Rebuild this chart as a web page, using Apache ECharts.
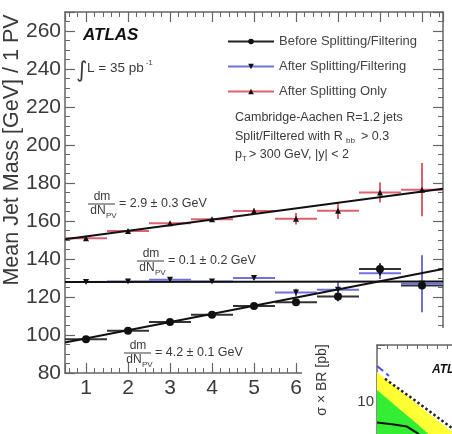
<!DOCTYPE html>
<html>
<head>
<meta charset="utf-8">
<script src="https://cdn.jsdelivr.net/npm/echarts@6/dist/echarts.min.js"></script>
<style>
html, body { margin: 0; padding: 0; background: #fff; }
#chart { width: 452px; height: 434px; }
</style>
</head>
<body>
<div id="chart"></div>
<script>
// mean jet mass per number of primary vertices
var nPV = [1, 2, 3, 4, 5, 6, 7, 8, 9];
var massBefore = [97.8, 102.2, 106.8, 110.6, 115.2, 117.3, 120.3, 134.8, 126.1];
var errBefore = [0.6, 0.6, 0.7, 0.8, 1.0, 1.5, 2.5, 3.0, 4.0];
var massFiltered = [127.9, 128.2, 129.1, 128.2, 130.0, 122.4, 123.8, 132.5, 127.0];
var errFiltered = [0.6, 0.6, 0.7, 0.8, 1.0, 2.0, 4.5, 3.0, 15.0];
var massSplit = [150.9, 154.8, 158.8, 160.9, 165.2, 161.2, 165.4, 175.0, 176.5];
var errSplit = [0.8, 0.8, 0.9, 1.0, 1.5, 3.0, 4.4, 5.3, 14.0];
var binHalf = 0.5;

// straight line fits, end points
var fitBefore = [[0.5, 96.0], [9.5, 134.7]];
var fitFiltered = [[0.5, 127.9], [9.5, 128.2]];
var fitSplit = [[0.5, 150.4], [9.5, 177.0]];

// corner of the neighbouring sigma x BR plot
var limX = [0, 2, 4, 6, 8, 10];
var band2Up = [17.8, 13.1, 9.6, 7.05, 5.2, 3.8];
var band1Up = [12.6, 9.06, 6.55, 4.64, 3.33, 2.4];
var expectedLimit = [[0.8, 15.6], [4, 10.0], [8, 5.6], [10, 4.1]];
var theoryLine = [[0, 20.0], [1.2, 16.5]];
var observedLimit = [[0, 6.7], [1.5, 6.5], [3, 6.2], [4, 5.5], [5, 4.6]];

var FONT = 'Liberation Sans, Arial, sans-serif';
var TXT = '#3a3a3a';
var FRAME = '#666';

var chart = echarts.init(document.getElementById('chart'));

function errBars(name, vals, errs, color) {
    return {
        name: name + ' bars',
        type: 'custom',
        xAxisIndex: 0,
        yAxisIndex: 0,
        z: 3,
        silent: true,
        data: nPV.map(function (x, i) { return [x, vals[i], errs[i]]; }),
        renderItem: function (params, api) {
            var x = api.value(0), y = api.value(1), e = api.value(2);
            var l = api.coord([x - binHalf, y]);
            var r = api.coord([x + binHalf, y]);
            var t = api.coord([x, y + e]);
            var b = api.coord([x, y - e]);
            var st = { stroke: color, lineWidth: 2 };
            return {
                type: 'group',
                children: [
                    { type: 'line', shape: { x1: l[0], y1: l[1], x2: r[0], y2: r[1] }, style: st },
                    { type: 'line', shape: { x1: t[0], y1: t[1], x2: b[0], y2: b[1] }, style: st }
                ]
            };
        }
    };
}

function fitLine(data) {
    return {
        type: 'line',
        xAxisIndex: 0,
        yAxisIndex: 0,
        z: 4,
        silent: true,
        symbol: 'none',
        data: data,
        lineStyle: { color: '#111', width: 2 }
    };
}

function markers(name, vals, symbol, size, rotate) {
    return {
        name: name,
        type: 'line',
        xAxisIndex: 0,
        yAxisIndex: 0,
        z: 5,
        symbol: symbol,
        symbolSize: size,
        symbolRotate: rotate,
        showSymbol: true,
        data: nPV.map(function (x, i) { return [x, vals[i]]; }),
        itemStyle: { color: '#111' },
        lineStyle: { opacity: 0 }
    };
}

function txt(x, y, s, size, extra) {
    var st = { text: s, font: size + 'px ' + FONT, fill: TXT, align: 'left', verticalAlign: 'middle' };
    var el = { type: 'text', x: x, y: y, z: 100, style: st };
    if (extra) {
        for (var k in extra) st[k] = extra[k];
    }
    return el;
}

function slope(x0, y0, label) {
    return [
        txt(x0 + 14, y0 - 7, 'dm', 12, { align: 'center' }),
        { type: 'line', z: 100, shape: { x1: x0, y1: y0, x2: x0 + 27, y2: y0 }, style: { stroke: TXT, lineWidth: 1 } },
        txt(x0 + 10, y0 + 7, 'dN', 12, { align: 'center' }),
        txt(x0 + 18, y0 + 12, 'PV', 8),
        txt(x0 + 31, y0, '= ' + label + ' GeV', 12.5)
    ];
}

var graphics = [
    { type: 'rect', z: 50, shape: { x: 302, y: 328, width: 150, height: 106 }, style: { fill: '#fff' } },
    {
        type: 'text', x: 12, y: 150, rotation: Math.PI / 2, z: 100,
        style: { text: 'Mean Jet Mass [GeV] / 1 PV', font: '21.5px ' + FONT, fill: TXT, align: 'center', verticalAlign: 'middle' }
    },
    txt(83, 35, 'ATLAS', 17, { font: 'italic bold 17px ' + FONT, fill: '#111' }),
    txt(76, 71, '\u222b', 22, { font: '22px DejaVu Sans', fill: TXT }),
    txt(87, 68, 'L = 35 pb', 13.5),
    txt(146, 63, '-1', 7.5),
    txt(235, 118, 'Cambridge-Aachen R=1.2 jets', 12.5),
    txt(235, 137, 'Split/Filtered with R', 12.5),
    txt(346, 141, 'bb', 8),
    txt(361, 137, '> 0.3', 12.5),
    txt(235, 155, 'p', 12.5),
    txt(242, 159, 'T', 8),
    txt(249, 155, '> 300 GeV, |y| < 2', 12.5),
    {
        type: 'text', x: 322, y: 380, rotation: Math.PI / 2, z: 100,
        style: { text: '\u03c3 \u00d7 BR [pb]', font: '14px ' + FONT, fill: TXT, align: 'center', verticalAlign: 'middle' }
    },
    txt(432, 370, 'ATLAS', 12, { font: 'italic bold 12px ' + FONT, fill: '#111' })
].concat(slope(88, 204, '2.9 \u00b1 0.3'), slope(137, 261, '0.1 \u00b1 0.2'), slope(124, 353, '4.2 \u00b1 0.1'));

var axisCommon = {
    axisLine: { lineStyle: { color: FRAME, width: 1.5 } },
    axisTick: { inside: true, length: 10, lineStyle: { color: FRAME, width: 1.2 } },
    minorTick: { show: true, length: 5, lineStyle: { color: FRAME, width: 1 } },
    splitLine: { show: false }
};

function axis(base, extra) {
    var o = JSON.parse(JSON.stringify(axisCommon));
    for (var k in base) o[k] = base[k];
    for (var j in extra) o[j] = extra[j];
    return o;
}

var xBase = { type: 'value', gridIndex: 0, min: 0.5, max: 9.5, splitNumber: 9 };
var yBase = { type: 'value', gridIndex: 0, min: 80, max: 270, interval: 20 };

var option = {
    animation: false,
    backgroundColor: '#fff',
    textStyle: { fontFamily: FONT },
    grid: [
        { left: 65, top: 12, right: 9, bottom: 61, outerBoundsMode: 'none' },
        { left: 377, top: 345, width: 200, height: 176, outerBoundsMode: 'none' }
    ],
    legend: {
        orient: 'vertical',
        left: 222,
        top: 30,
        itemWidth: 46,
        itemHeight: 7,
        itemGap: 12,
        textStyle: { fontSize: 13, color: '#444', fontFamily: FONT },
        data: [
            { name: 'Before Splitting/Filtering', lineStyle: { color: '#222', width: 2, opacity: 1 } },
            { name: 'After Splitting/Filtering', lineStyle: { color: '#7070e0', width: 2, opacity: 1 } },
            { name: 'After Splitting Only', lineStyle: { color: '#e06070', width: 2, opacity: 1 } }
        ]
    },
    xAxis: [
        axis(xBase, {
            position: 'bottom',
            minorTick: { show: true, splitNumber: 5, length: 5, lineStyle: { color: FRAME } },
            axisLabel: {
                fontSize: 21, color: TXT, margin: 5, fontFamily: FONT,
                formatter: function (v) { return Number.isInteger(v) ? String(v) : ''; }
            }
        }),
        axis(xBase, {
            position: 'top',
            minorTick: { show: true, splitNumber: 5, length: 5, lineStyle: { color: FRAME } },
            axisLabel: { show: false }
        }),
        {
            type: 'value', gridIndex: 1, position: 'top', min: 0, max: 20, interval: 1, z: 100,
            axisLine: { lineStyle: { color: FRAME, width: 1.5 } },
            axisTick: { inside: true, length: 4, lineStyle: { color: FRAME } },
            axisLabel: { show: false },
            splitLine: { show: false }
        }
    ],
    yAxis: [
        axis(yBase, {
            position: 'left',
            minorTick: { show: true, splitNumber: 4, length: 5, lineStyle: { color: FRAME } },
            axisLabel: {
                fontSize: 21, color: TXT, margin: 4, fontFamily: FONT,
                formatter: function (v) { return v % 20 === 0 ? String(v) : ''; }
            }
        }),
        axis(yBase, {
            position: 'right',
            minorTick: { show: true, splitNumber: 4, length: 5, lineStyle: { color: FRAME } },
            axisLabel: { show: false }
        }),
        {
            type: 'log', gridIndex: 1, min: 1, max: 30, z: 100,
            axisLine: { lineStyle: { color: FRAME, width: 1.5 } },
            axisTick: { inside: true, length: 8, lineStyle: { color: FRAME } },
            minorTick: { show: true, splitNumber: 5, length: 4, lineStyle: { color: FRAME } },
            axisLabel: {
                fontSize: 15, color: TXT, margin: 3, fontFamily: FONT,
                formatter: function (v) { return Math.abs(v - 10) < 0.01 ? '10' : ''; }
            },
            splitLine: { show: false }
        }
    ],
    series: [
        errBars('before', massBefore, errBefore, '#333'),
        errBars('filtered', massFiltered, errFiltered, '#7070e0'),
        errBars('split', massSplit, errSplit, '#e06070'),
        fitLine(fitBefore),
        fitLine(fitFiltered),
        fitLine(fitSplit),
        markers('Before Splitting/Filtering', massBefore, 'circle', 8, 0),
        markers('After Splitting/Filtering', massFiltered, 'triangle', 6, 180),
        markers('After Splitting Only', massSplit, 'triangle', 6, 0),
        {
            type: 'line', xAxisIndex: 2, yAxisIndex: 2, z: 101, silent: true, symbol: 'none',
            data: limX.map(function (x, i) { return [x, band2Up[i]]; }),
            lineStyle: { width: 0 },
            areaStyle: { color: '#ffff33', opacity: 1, origin: 'start' }
        },
        {
            type: 'line', xAxisIndex: 2, yAxisIndex: 2, z: 102, silent: true, symbol: 'none',
            data: limX.map(function (x, i) { return [x, band1Up[i]]; }),
            lineStyle: { width: 0 },
            areaStyle: { color: '#33ee33', opacity: 1, origin: 'start' }
        },
        {
            type: 'line', xAxisIndex: 2, yAxisIndex: 2, z: 103, silent: true, symbol: 'none',
            data: expectedLimit,
            lineStyle: { color: '#222', width: 2.5, type: 'dotted' }
        },
        {
            type: 'line', xAxisIndex: 2, yAxisIndex: 2, z: 103, silent: true, symbol: 'none',
            data: theoryLine,
            lineStyle: { color: '#5050e0', width: 2, type: 'dashed' }
        },
        {
            type: 'line', xAxisIndex: 2, yAxisIndex: 2, z: 103, silent: true, symbol: 'none',
            data: observedLimit,
            lineStyle: { color: '#111', width: 2 }
        }
    ],
    graphic: graphics
};

chart.setOption(option);
</script>
</body>
</html>
